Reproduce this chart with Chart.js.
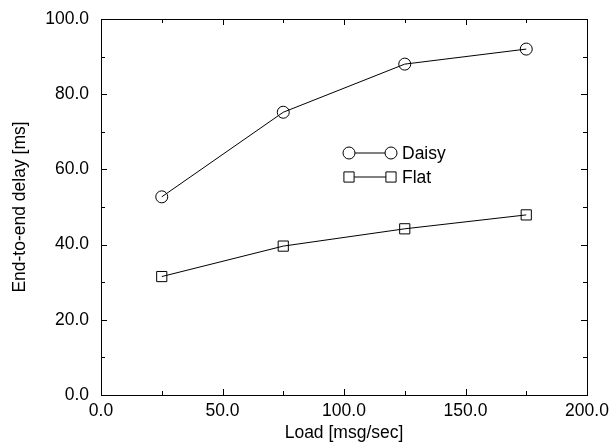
<!DOCTYPE html>
<html>
<head>
<meta charset="utf-8">
<script src="https://cdn.jsdelivr.net/npm/chart.js@4"></script>
<style>
html,body{margin:0;padding:0;background:#fff;}
#wrap{width:610px;height:442px;}
</style>
</head>
<body>
<div id="wrap"><canvas id="c" width="610" height="442"></canvas></div>
<script>
const loads = [25, 75, 125, 175];
const daisy = [52.7, 75.2, 88.0, 92.0];
const flat = [31.5, 39.6, 44.2, 47.9];
const xTicks = [0, 50, 100, 150, 200];
const yTicks = [0, 20, 40, 60, 80, 100];
const seriesNames = ['Daisy', 'Flat'];

const FONT = 'Liberation Sans, Arial, sans-serif';
const FS = 17.5;

const boxPlugin = {
  id: 'box',
  afterDatasetsDraw(chart) {
    const {ctx, chartArea: a, scales: {x, y}} = chart;
    ctx.save();
    ctx.strokeStyle = '#000';
    ctx.lineWidth = 1;
    ctx.strokeRect(a.left + 0.5, a.top + 0.5, a.right - a.left, a.bottom - a.top);
    ctx.beginPath();
    for (let v = 0; v <= 200; v += 25) {
      const px = Math.round(x.getPixelForValue(v)) + 0.5;
      const len = (v % 50 === 0) ? 6 : 4;
      ctx.moveTo(px, a.bottom); ctx.lineTo(px, a.bottom - len);
      ctx.moveTo(px, a.top); ctx.lineTo(px, a.top + len);
    }
    for (let v = 0; v <= 100; v += 10) {
      const py = Math.round(y.getPixelForValue(v)) + 0.5;
      const len = (v % 20 === 0) ? 6 : 4;
      ctx.moveTo(a.left, py); ctx.lineTo(a.left + len, py);
      ctx.moveTo(a.right, py); ctx.lineTo(a.right - len, py);
    }
    ctx.stroke();
    // legend
    const items = chart.data.datasets;
    const lx1 = 349, lx2 = 391, ly0 = 153, dy = 24;
    items.forEach((ds, i) => {
      const ly = ly0 + i * dy;
      ctx.beginPath();
      ctx.moveTo(lx1, ly); ctx.lineTo(lx2, ly);
      ctx.stroke();
      [lx1, lx2].forEach(px => {
        ctx.beginPath();
        if (ds.pointStyle === 'circle') {
          ctx.arc(px, ly, ds.pointRadius, 0, Math.PI * 2);
        } else {
          const s = Math.SQRT1_2 * ds.pointRadius;
          ctx.rect(px - s, ly - s, 2 * s, 2 * s);
        }
        ctx.fillStyle = '#fff';
        ctx.fill();
        ctx.stroke();
      });
      ctx.fillStyle = '#000';
      ctx.font = FS + 'px ' + FONT;
      ctx.textBaseline = 'middle';
      ctx.textAlign = 'left';
      ctx.fillText(ds.label, lx2 + 11, ly + 1);
    });
    ctx.restore();
  }
};

new Chart(document.getElementById('c'), {
  type: 'line',
  data: {
    datasets: [
      {
        label: seriesNames[0],
        data: loads.map((v, i) => ({x: v, y: daisy[i]})),
        borderColor: '#000', borderWidth: 1,
        pointStyle: 'circle', pointRadius: 6,
        pointBackgroundColor: 'rgba(0,0,0,0)', pointBorderColor: '#000', pointBorderWidth: 1,
        tension: 0
      },
      {
        label: seriesNames[1],
        data: loads.map((v, i) => ({x: v, y: flat[i]})),
        borderColor: '#000', borderWidth: 1,
        pointStyle: 'rect', pointRadius: 7.2,
        pointBackgroundColor: 'rgba(0,0,0,0)', pointBorderColor: '#000', pointBorderWidth: 1,
        tension: 0
      }
    ]
  },
  options: {
    responsive: false,
    animation: false,
    layout: {padding: {top: 19, right: 23, left: 0, bottom: 0}},
    plugins: {legend: {display: false}, tooltip: {enabled: false}},
    scales: {
      x: {
        type: 'linear', min: 0, max: 200,
        afterBuildTicks(s) { s.ticks = xTicks.map(v => ({value: v})); },
        afterFit(s) { s.height = 47; s.paddingLeft = 0; s.paddingRight = 0; },
        grid: {display: false, drawTicks: false},
        border: {display: false},
        ticks: {
          padding: 6, color: '#000', maxRotation: 0, autoSkip: false,
          font: {family: FONT, size: FS},
          callback: v => Number(v).toFixed(1)
        },
        title: {display: true, text: 'Load [msg/sec]', color: '#000', padding: {top: 0, bottom: 0},
          font: {family: FONT, size: FS, lineHeight: 1}}
      },
      y: {
        type: 'linear', min: 0, max: 100,
        afterBuildTicks(s) { s.ticks = yTicks.map(v => ({value: v})); },
        afterFit(s) { s.width = 101; s.paddingTop = 0; s.paddingBottom = 0; },
        grid: {display: false, drawTicks: false},
        border: {display: false},
        ticks: {
          padding: 12, color: '#000', autoSkip: false,
          font: {family: FONT, size: FS},
          callback: v => Number(v).toFixed(1)
        },
        title: {display: true, text: 'End-to-end delay [ms]', color: '#000', padding: {top: 11, bottom: 11},
          font: {family: FONT, size: FS, lineHeight: 1}}
      }
    }
  },
  plugins: [boxPlugin]
});
</script>
</body>
</html>
